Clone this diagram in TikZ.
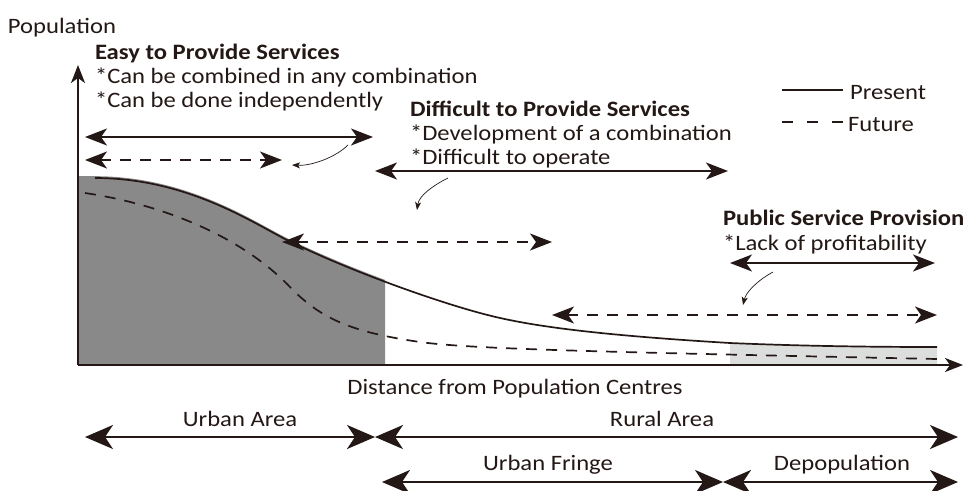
\documentclass[tikz,border=0pt]{standalone}
\usepackage{fontspec}
\setmainfont{Carlito}[FakeStretch=1.12]
\usetikzlibrary{arrows.meta}

\definecolor{ink}{HTML}{231815}
\definecolor{urbanfill}{HTML}{898989}
\definecolor{ruralfill}{HTML}{DCDDDD}

\tikzset{
  txt/.style={inner sep=0pt, outer sep=0pt, anchor=base west, text=ink,
              font=\fontsize{22}{26}\selectfont},
  ttl/.style={txt, font=\fontsize{22}{26}\selectfont\bfseries},
  lbl/.style={inner sep=0pt, outer sep=0pt, anchor=base, text=ink,
              font=\fontsize{22}{26}\selectfont},
  axisline/.style={draw=ink, line width=1.8pt, -{Stealth[length=18pt,width=14pt,inset=5pt]}},
  present/.style={draw=ink, line width=1.7pt},
  future/.style={draw=ink, line width=1.7pt, dash pattern=on 11pt off 9pt},
  span/.style={draw=ink, line width=1.6pt,
               {Stealth[length=22pt,width=17pt,inset=6pt]}-{Stealth[length=22pt,width=17pt,inset=6pt]}},
  dspan/.style={span, dash pattern=on 11pt off 9pt},
  region/.style={draw=ink, line width=2.4pt,
               {Stealth[length=28pt,width=24pt,inset=8pt]}-{Stealth[length=28pt,width=24pt,inset=8pt]}},
  pointer/.style={draw=ink, line width=0.7pt, -{Stealth[length=8pt,width=6pt,inset=2pt]}},
}

% present-day population profile
\newcommand{\presentpath}{(95,178) .. controls (185,178) and (250,221) .. (285,239)
  .. controls (345,269) and (430,299.5) .. (480,313)
  .. controls (520,324) and (580,334) .. (730,343)
  .. controls (800,346) and (870,347) .. (937,347)}

\begin{document}
\begin{tikzpicture}[x=1pt, y=-1pt]
\useasboundingbox (0,0) rectangle (965,490);

% shaded zones under the present curve
\begin{scope}
  \clip (78,0) rectangle (385,365);
  \fill[urbanfill, yshift=1.8pt] (78,178) -- \presentpath -- (937,380) -- (78,380) -- cycle;
\end{scope}
\begin{scope}
  \clip (730,0) rectangle (937,365);
  \fill[ruralfill] \presentpath -- (937,380) -- (95,380) -- cycle;
\end{scope}

% population curves
\draw[present] \presentpath;
\draw[future] (85,193) .. controls (160,204) and (240,235) .. (290,287)
  .. controls (320,318) and (350,332) .. (420,342)
  .. controls (470,349) and (600,352) .. (937,359);

% axes
\coordinate (origin) at (78,365);
\coordinate (ytip) at (78,65);
\coordinate (xtip) at (963,365);
\draw[axisline] (origin) -- (ytip);
\draw[axisline] (origin) -- (xtip);
\node[txt] (ylab) at (8,33) {Population};
\node[lbl] (xlab) at (515,394) {Distance from Population Centres};

% legend
\coordinate (legA) at (782,90);
\coordinate (legB) at (843,90);
\coordinate (legC) at (782,122);
\coordinate (legD) at (843,122);
\draw[present] (legA) -- (legB);
\draw[draw=ink, line width=1.7pt, dash pattern=on 11pt off 14pt] (legC) -- (legD);
\node[txt] (legpres) at (850,99) {Present};
\node[txt] (legfut) at (848,131) {Future};

% easy to provide services
\node[ttl] (easyT) at (95,59) {Easy to Provide Services};
\node[txt] (easy1) at (95,83) {*Can be combined in any combination};
\node[txt] (easy2) at (95,107) {*Can be done independently};
\coordinate (e1a) at (85,137);  \coordinate (e1b) at (373,137);
\coordinate (e2a) at (85,160);  \coordinate (e2b) at (282,160);
\draw[span] (e1a) -- (e1b);
\draw[dspan] (e2a) -- (e2b);
\coordinate (p1s) at (348,145); \coordinate (p1e) at (292,165);
\draw[pointer] (p1s) .. controls (336,157) and (312,166) .. (p1e);

% difficult to provide services
\node[ttl] (diffT) at (410,116) {Difficult to Provide Services};
\node[txt] (diff1) at (410,140) {*Development of a combination};
\node[txt] (diff2) at (410,164) {*Difficult to operate};
\coordinate (d1a) at (375,171); \coordinate (d1b) at (728,171);
\coordinate (d2a) at (282,242); \coordinate (d2b) at (552,242);
\draw[span] (d1a) -- (d1b);
\draw[dspan] (d2a) -- (d2b);
\coordinate (p2s) at (448,178); \coordinate (p2e) at (417,210);
\draw[pointer] (p2s) .. controls (432,186) and (419,196) .. (p2e);

% public service provision
\node[ttl] (pubT) at (723,225) {Public Service Provision};
\node[txt] (pub1) at (723,250) {*Lack of profitability};
\coordinate (s1a) at (730,263); \coordinate (s1b) at (935,263);
\coordinate (s2a) at (552,315); \coordinate (s2b) at (937,315);
\draw[span] (s1a) -- (s1b);
\draw[dspan] (s2a) -- (s2b);
\coordinate (p3s) at (773,272); \coordinate (p3e) at (743,305);
\draw[pointer] (p3s) .. controls (758,280) and (746,292) .. (p3e);

% area bands
\coordinate (r1a) at (85,437);  \coordinate (r1m) at (375,437); \coordinate (r1b) at (958,437);
\coordinate (r2a) at (382,482); \coordinate (r2m) at (723,482); \coordinate (r2b) at (958,482);
\draw[region] (r1a) -- (r1m);
\draw[region] (r1m) -- (r1b);
\draw[region] (r2a) -- (r2m);
\draw[region] (r2m) -- (r2b);
\node[lbl] (urban) at (240,426) {Urban Area};
\node[lbl] (rural) at (662,426) {Rural Area};
\node[lbl] (fringe) at (548,470) {Urban Fringe};
\node[lbl] (depop) at (842,470) {Depopulation};
\end{tikzpicture}
\end{document}
